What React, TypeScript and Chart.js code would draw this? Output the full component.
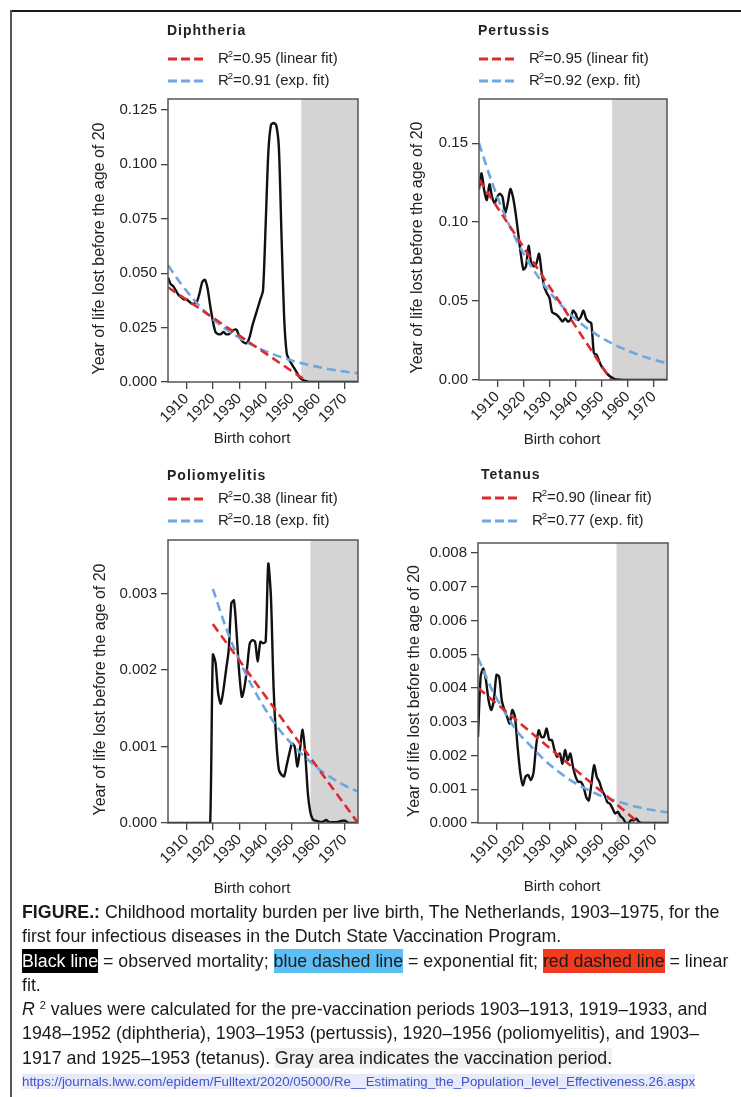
import React, { useEffect, useRef } from "react";
import { Chart, registerables } from "chart.js";

Chart.register(...registerables);

// ---------------- DATA ----------------
const birthYears = [
  1903, 1904, 1905, 1906, 1907, 1908, 1909, 1910, 1911, 1912, 1913, 1914, 1915, 1916, 1917, 1918, 1919,
  1920, 1921, 1922, 1923, 1924, 1925, 1926, 1927, 1928, 1929, 1930, 1931, 1932, 1933, 1934, 1935, 1936,
  1937, 1938, 1939, 1940, 1941, 1942, 1943, 1944, 1945, 1946, 1947, 1948, 1949, 1950, 1951, 1952, 1953,
  1954, 1955, 1956, 1957, 1958, 1959, 1960, 1961, 1962, 1963, 1964, 1965, 1966, 1967, 1968, 1969, 1970,
  1971, 1972, 1973, 1974, 1975,
];

const diphtheriaObserved = [
  0.048, 0.045, 0.044, 0.042, 0.04, 0.039, 0.038, 0.038, 0.037, 0.036, 0.036, 0.037, 0.041, 0.046, 0.047,
  0.043, 0.035, 0.028, 0.023, 0.022, 0.022, 0.023, 0.022, 0.022, 0.023, 0.024, 0.024, 0.021, 0.019, 0.018,
  0.018, 0.021, 0.026, 0.03, 0.034, 0.038, 0.042, 0.072, 0.105, 0.118, 0.119, 0.118, 0.108, 0.068, 0.03,
  0.013, 0.01, 0.008, 0.006, 0.004, 0.002, 0.001, 0.0005, 0.0002, 0, 0, 0, 0, 0, 0, 0, 0, 0, 0, 0, 0, 0,
  0, 0, 0, 0, 0, 0,
];

const pertussisObserved = [
  0.121, 0.131, 0.12, 0.114, 0.124, 0.116, 0.112, 0.116, 0.118, 0.116, 0.106, 0.112, 0.121, 0.116, 0.106,
  0.093, 0.08, 0.07, 0.072, 0.085, 0.074, 0.072, 0.074, 0.08, 0.068, 0.059, 0.055, 0.052, 0.043, 0.042,
  0.041, 0.039, 0.037, 0.039, 0.037, 0.038, 0.044, 0.042, 0.038, 0.04, 0.044, 0.039, 0.037, 0.036, 0.017,
  0.016, 0.012, 0.0085, 0.0064, 0.0042, 0.0025, 0.0015, 0.0006, 0.0003, 0.0002, 0.0001, 0, 0, 0, 0, 0, 0,
  0, 0, 0, 0, 0, 0, 0, 0, 0, 0, 0,
];

const polioObserved = [
  0, 0, 0, 0, 0, 0, 0, 0, 0, 0, 0, 0, 0, 0, 0, 0, 0,
  0.0022, 0.0021, 0.0017, 0.00156, 0.00174, 0.002, 0.00226, 0.00287, 0.00291, 0.00248, 0.00196, 0.00165,
  0.00178, 0.00204, 0.00235, 0.00239, 0.00237, 0.00211, 0.00237, 0.00235, 0.00237, 0.00339, 0.00296,
  0.00178, 0.00109, 0.0007, 0.00063, 0.00061, 0.00076, 0.00091, 0.00104, 0.001, 0.00074, 0.00096, 0.00122,
  0.00091, 0.00039, 0.00013, 0.00004, 0.00003, 0.00002, 0.00001, 0.00002, 0.00004, 0.00001, 0.00001,
  0.00001, 0.00001, 0.00002, 0.00003, 0.00003, 0.00001, 0, 0, 0, 0,
];

const tetanusObserved = [
  0.00255, 0.00434, 0.00458, 0.00424, 0.00364, 0.00335, 0.00364, 0.00439, 0.00434, 0.00364, 0.00335,
  0.00315, 0.00295, 0.00335, 0.00315, 0.00226, 0.0015, 0.00112, 0.00137, 0.00142, 0.00127, 0.00147,
  0.00226, 0.00275, 0.00255, 0.00255, 0.0028, 0.00246, 0.00246, 0.00216, 0.00196, 0.00206, 0.00176,
  0.00216, 0.00186, 0.00206, 0.00166, 0.00137, 0.00122, 0.00122, 0.00107, 0.00077, 0.00067, 0.00117,
  0.00171, 0.00137, 0.00122, 0.00097, 0.00082, 0.00062, 0.00057, 0.00043, 0.00028, 0.00033, 0.0002,
  0.00013, 0, 0, 0.00008, 0.00008, 0.00013, 0.00003, 0, 0, 0, 0, 0, 0, 0, 0, 0, 0, 0,
];

// linear fits (end points)
const diphtheriaLinX = [1903, 1956];
const diphtheriaLinY = [0.0435, 0];
const pertussisLinX = [1903, 1953.5];
const pertussisLinY = [0.127, 0];
const polioLinX = [1920, 1975];
const polioLinY = [0.0026, 0];
const tetanusLinX = [1903, 1964];
const tetanusLinY = [0.004, 0];

// exponential fits
const fitYears = [1903, 1908, 1913, 1918, 1923, 1928, 1933, 1938, 1943, 1948, 1953, 1958, 1963, 1968, 1975];
const diphtheriaExpY = [0.0536, 0.045, 0.0375, 0.0312, 0.026, 0.0218, 0.0182, 0.0152, 0.0127, 0.0106, 0.0088, 0.0074, 0.0061, 0.0051, 0.004];
const pertussisExpY = [0.15, 0.125, 0.104, 0.0865, 0.072, 0.06, 0.05, 0.0415, 0.0345, 0.0288, 0.024, 0.02, 0.0166, 0.0138, 0.0106];
const polioFitYears = [1920, 1925, 1930, 1935, 1940, 1945, 1950, 1955, 1960, 1965, 1970, 1975];
const polioExpY = [0.00306, 0.00255, 0.00213, 0.00178, 0.00148, 0.00123, 0.00103, 0.00086, 0.00071, 0.00059, 0.00049, 0.00041];
const tetanusExpY = [0.0049, 0.004, 0.0033, 0.0027, 0.00228, 0.00188, 0.00155, 0.00127, 0.00105, 0.00086, 0.00071, 0.00059, 0.00048, 0.0004, 0.00031];

const r2Linear = [0.95, 0.95, 0.38, 0.9];
const r2Exp = [0.91, 0.92, 0.18, 0.77];
const diseaseNames = ["Diphtheria", "Pertussis", "Poliomyelitis", "Tetanus"];
const vaccinationStart = [1953.5, 1954, 1957, 1955.5];
const yAxisMax = [0.13, 0.178, 0.0037, 0.0083];

const xTickValues = [1910, 1920, 1930, 1940, 1950, 1960, 1970];
const xTickLabels = ["1910", "1920", "1930", "1940", "1950", "1960", "1970"];
const diphtheriaYTicks = [0, 0.025, 0.05, 0.075, 0.1, 0.125];
const diphtheriaYLabels = ["0.000", "0.025", "0.050", "0.075", "0.100", "0.125"];
const pertussisYTicks = [0, 0.05, 0.1, 0.15];
const pertussisYLabels = ["0.00", "0.05", "0.10", "0.15"];
const polioYTicks = [0, 0.001, 0.002, 0.003];
const polioYLabels = ["0.000", "0.001", "0.002", "0.003"];
const tetanusYTicks = [0, 0.001, 0.002, 0.003, 0.004, 0.005, 0.006, 0.007, 0.008];
const tetanusYLabels = ["0.000", "0.001", "0.002", "0.003", "0.004", "0.005", "0.006", "0.007", "0.008"];

const xAxisTitle = "Birth cohort";
const yAxisTitle = "Year of life lost before the age of 20";

// ---------------- LAYOUT (page pixels) ----------------
const panelLayout = [
  { box: [168, 99, 358, 382], titleY: 31, leg1Y: 59, leg2Y: 81, legDx: 0, yTitleX: 100, xTitleY: 439 },
  { box: [479, 99, 667, 380], titleY: 31, leg1Y: 59, leg2Y: 81, legDx: 0, yTitleX: 418, xTitleY: 440 },
  { box: [168, 540, 358, 823], titleY: 476, leg1Y: 499, leg2Y: 521, legDx: 0, yTitleX: 101, xTitleY: 889 },
  { box: [478, 543, 668, 823], titleY: 475, leg1Y: 498, leg2Y: 521, legDx: 4, yTitleX: 415, xTitleY: 887 },
];

const PAD_LEFT = 88;
const PAD_TOP = 92;
const PAD_RIGHT = 20;
const PAD_BOTTOM = 82;

const FONT = "'Liberation Sans', Arial, Helvetica, sans-serif";
const RED = "#dc2a2f";
const BLUE = "#6da7df";

const pts = (xs: number[], ys: number[]) => xs.map((x, i) => ({ x, y: ys[i] }));

const panels = [
  { obs: diphtheriaObserved, linX: diphtheriaLinX, linY: diphtheriaLinY, expX: fitYears, expY: diphtheriaExpY, yTicks: diphtheriaYTicks, yLabels: diphtheriaYLabels },
  { obs: pertussisObserved, linX: pertussisLinX, linY: pertussisLinY, expX: fitYears, expY: pertussisExpY, yTicks: pertussisYTicks, yLabels: pertussisYLabels },
  { obs: polioObserved, linX: polioLinX, linY: polioLinY, expX: polioFitYears, expY: polioExpY, yTicks: polioYTicks, yLabels: polioYLabels },
  { obs: tetanusObserved, linX: tetanusLinX, linY: tetanusLinY, expX: fitYears, expY: tetanusExpY, yTicks: tetanusYTicks, yLabels: tetanusYLabels },
];

const decorPlugin = {
  id: "decor",
  beforeDatasetsDraw(chart: any, _args: any, opts: any) {
    const { ctx, chartArea: a, scales } = chart;
    const x0 = scales.x.getPixelForValue(opts.vacStart);
    ctx.save();
    ctx.fillStyle = "#d4d4d4";
    ctx.fillRect(x0, a.top, a.right - x0, a.bottom - a.top);
    ctx.restore();
  },
  afterDatasetsDraw(chart: any, _args: any, opts: any) {
    const { ctx, chartArea: a } = chart;
    const ox = opts.canvasLeft;
    const oy = opts.canvasTop;
    ctx.save();
    // box
    ctx.strokeStyle = "#555";
    ctx.lineWidth = 1.5;
    ctx.strokeRect(a.left, a.top, a.right - a.left, a.bottom - a.top);

    ctx.fillStyle = "#222";
    ctx.textBaseline = "middle";
    // title
    ctx.font = `bold 14px ${FONT}`;
    ctx.textAlign = "left";
    (ctx as any).letterSpacing = "1px";
    ctx.fillText(opts.title, a.left - 1 + opts.legDx, opts.titleY - oy);
    (ctx as any).letterSpacing = "0px";

    // legend
    const rows = [
      { color: RED, y: opts.leg1Y - oy, text: `=${opts.r2Lin.toFixed(2)} (linear fit)` },
      { color: BLUE, y: opts.leg2Y - oy, text: `=${opts.r2Exp.toFixed(2)} (exp. fit)` },
    ];
    rows.forEach((r) => {
      const lx = a.left + opts.legDx;
      ctx.save();
      ctx.strokeStyle = r.color;
      ctx.lineWidth = 3;
      ctx.setLineDash([9, 4]);
      ctx.beginPath();
      ctx.moveTo(lx, r.y);
      ctx.lineTo(lx + 35, r.y);
      ctx.stroke();
      ctx.restore();
      let tx = lx + 50;
      ctx.font = `15px ${FONT}`;
      ctx.fillText("R", tx, r.y);
      tx += ctx.measureText("R").width;
      ctx.font = `9.5px ${FONT}`;
      ctx.fillText("2", tx - 1, r.y - 5);
      tx += ctx.measureText("2").width - 1;
      ctx.font = `15px ${FONT}`;
      ctx.fillText(r.text, tx, r.y);
    });

    // axis titles
    ctx.font = `15px ${FONT}`;
    ctx.textAlign = "center";
    ctx.fillText(xAxisTitle, (a.left + a.right) / 2 - 11, opts.xTitleY - oy);
    ctx.save();
    ctx.font = `16px ${FONT}`;
    ctx.translate(opts.yTitleX - ox, (a.top + a.bottom) / 2 + 8);
    ctx.rotate(-Math.PI / 2);
    ctx.fillText(yAxisTitle, 0, 0);
    ctx.restore();
    ctx.restore();
  },
};

function Panel({ idx }: { idx: number }) {
  const ref = useRef<HTMLCanvasElement>(null);
  const lay = panelLayout[idx];
  const [l, t, r, b] = lay.box;
  const left = l - PAD_LEFT;
  const top = t - PAD_TOP;
  const width = r - l + PAD_LEFT + PAD_RIGHT;
  const height = b - t + PAD_TOP + PAD_BOTTOM;

  useEffect(() => {
    const p = panels[idx];
    const chart = new Chart(ref.current as HTMLCanvasElement, {
      type: "line",
      data: {
        datasets: [
          {
            label: "observed",
            data: pts(birthYears, p.obs),
            borderColor: "#111",
            borderWidth: 2.4,
            pointRadius: 0,
            tension: 0.25,
            order: 3,
          },
          {
            label: "exp. fit",
            data: pts(p.expX, p.expY),
            borderColor: BLUE,
            borderWidth: 2.6,
            borderDash: [9, 5],
            pointRadius: 0,
            cubicInterpolationMode: "monotone",
            order: 2,
          },
          {
            label: "linear fit",
            data: pts(p.linX, p.linY),
            borderColor: RED,
            borderWidth: 2.6,
            borderDash: [9, 5],
            pointRadius: 0,
            order: 1,
          },
        ],
      },
      options: {
        responsive: false,
        animation: false,
        devicePixelRatio: 1,
        layout: { padding: { top: PAD_TOP, left: 0, right: PAD_RIGHT, bottom: 0 } },
        plugins: {
          legend: { display: false },
          tooltip: { enabled: false },
          decor: {
            vacStart: vaccinationStart[idx],
            title: diseaseNames[idx],
            r2Lin: r2Linear[idx],
            r2Exp: r2Exp[idx],
            canvasLeft: left,
            canvasTop: top,
            titleY: lay.titleY,
            leg1Y: lay.leg1Y,
            leg2Y: lay.leg2Y,
            legDx: lay.legDx,
            yTitleX: lay.yTitleX,
            xTitleY: lay.xTitleY,
          },
        } as any,
        scales: {
          x: {
            type: "linear",
            min: 1903,
            max: 1975,
            afterBuildTicks: (s: any) => {
              s.ticks = xTickValues.map((v) => ({ value: v }));
            },
            afterFit: (s: any) => {
              s.height = PAD_BOTTOM;
            },
            ticks: {
              autoSkip: false,
              minRotation: 45,
              maxRotation: 45,
              padding: 1,
              color: "#222",
              font: { family: FONT, size: 15 },
              callback: (_v: any, i: number) => xTickLabels[i],
            },
            grid: { drawOnChartArea: false, drawTicks: true, tickLength: 7, color: "#444", lineWidth: 1.3 },
            border: { display: false },
          },
          y: {
            type: "linear",
            min: 0,
            max: yAxisMax[idx],
            afterBuildTicks: (s: any) => {
              s.ticks = p.yTicks.map((v) => ({ value: v }));
            },
            afterFit: (s: any) => {
              s.width = PAD_LEFT;
            },
            ticks: {
              autoSkip: false,
              padding: 4,
              color: "#222",
              font: { family: FONT, size: 15 },
              callback: (_v: any, i: number) => p.yLabels[i],
            },
            grid: { drawOnChartArea: false, drawTicks: true, tickLength: 7, color: "#444", lineWidth: 1.3 },
            border: { display: false },
          },
        },
      },
      plugins: [decorPlugin as any],
    });
    return () => chart.destroy();
  }, [idx]);

  return (
    <canvas
      ref={ref}
      width={width}
      height={height}
      style={{ position: "absolute", left, top, width, height }}
    />
  );
}

const captionFont = "'Liberation Sans', Arial, Helvetica, sans-serif";
const hl = { paddingTop: 2, paddingBottom: 2 };

export default function App() {
  return (
    <div style={{ position: "absolute", left: 0, top: 0, width: 741, height: 1097, background: "#fff", overflow: "hidden" }}>
      <div style={{ position: "absolute", left: 10, top: 10, width: 731, height: 2, background: "#1a1a1a" }} />
      <div style={{ position: "absolute", left: 10, top: 10, width: 2, height: 1087, background: "#555" }} />
      {[0, 1, 2, 3].map((i) => (
        <Panel key={i} idx={i} />
      ))}
      <div
        style={{
          position: "absolute",
          left: 22,
          top: 900,
          fontFamily: captionFont,
          fontSize: 17.8,
          lineHeight: "24.3px",
          color: "#1a1a1a",
          whiteSpace: "nowrap",
        }}
      >
        <div style={{ height: 24.3 }}>
          <b>FIGURE.:</b> Childhood mortality burden per live birth, The Netherlands, 1903–1975, for the
        </div>
        <div style={{ height: 24.3 }}>first four infectious diseases in the Dutch State Vaccination Program.</div>
        <div style={{ height: 24.3 }}>
          <span style={{ ...hl, background: "#000", color: "#fff" }}>Black line</span> = observed mortality;{" "}
          <span style={{ ...hl, background: "#5cbef4" }}>blue dashed line</span> = exponential fit;{" "}
          <span style={{ ...hl, background: "#f23a1e" }}>red dashed line</span> = linear
        </div>
        <div style={{ height: 24.3 }}>fit.</div>
        <div style={{ height: 24.3 }}>
          <i>R</i>{" "}
          <span style={{ fontSize: 11, position: "relative", top: -6, lineHeight: 0 }}>2</span> values were calculated for the pre-vaccination periods 1903–1913, 1919–1933, and
        </div>
        <div style={{ height: 24.3 }}>1948–1952 (diphtheria), 1903–1953 (pertussis), 1920–1956 (poliomyelitis), and 1903–</div>
        <div style={{ height: 24.3 }}>
          1917 and 1925–1953 (tetanus). <span style={{ background: "#f1f1f1" }}>Gray area indicates the vaccination period.</span>
        </div>
        <div style={{ height: 24.3, fontSize: 13.3, color: "#3b55c9" }}>
          <span style={{ background: "#e8eafa" }}>
            https://journals.lww.com/epidem/Fulltext/2020/05000/Re__Estimating_the_Population_level_Effectiveness.26.aspx
          </span>
        </div>
      </div>
    </div>
  );
}
